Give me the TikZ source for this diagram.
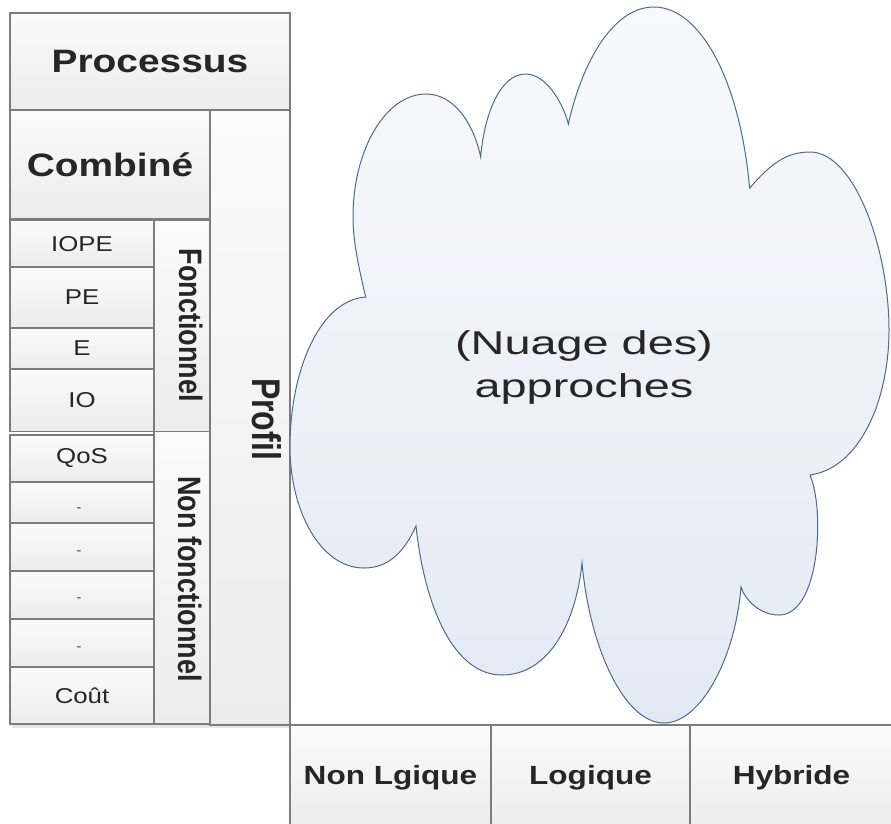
\documentclass[tikz,border=0pt]{standalone}
\usepackage{fontspec}
\setmainfont{Liberation Sans}
\newfontfamily\wideface[FakeStretch=1.2]{Liberation Sans}
\newfontfamily\cloudface[FakeStretch=1.42]{Liberation Sans}
\definecolor{boxline}{HTML}{7C7C7C}
\definecolor{boxtop}{HTML}{FBFBFB}
\definecolor{boxbot}{HTML}{ECECEC}
\definecolor{ink}{HTML}{262626}
\definecolor{cloudline}{HTML}{4E6B8E}
\definecolor{cloudtop}{HTML}{F8F9FC}
\definecolor{cloudbot}{HTML}{E3E9F3}
\begin{document}
\begin{tikzpicture}[x=1pt,y=-1pt,
  cell/.style={draw=boxline, line width=1.2pt, top color=boxtop, bottom color=boxbot,
    inner sep=0pt, text=ink, font=\wideface\fontsize{21.5}{26}\selectfont},
  head/.style={font=\wideface\bfseries\fontsize{32.4}{38}\selectfont},
  foot/.style={font=\wideface\bfseries\fontsize{26.3}{32}\selectfont},
  side/.style={rotate=-90, inner sep=0pt, text=ink},
  dashmark/.style={inner sep=0pt, text=ink, font=\wideface\fontsize{12}{14}\selectfont},
  cloudtext/.style={align=center, inner sep=0pt, text=ink,
    font=\cloudface\fontsize{33}{43.3}\selectfont}]
\clip (0,0) rectangle (891,823);
\fill[white] (0,0) rectangle (891,823);

% soft shadow under the left column
\fill[black!10] (12,724) rectangle (292,728);

% left column: profile, process, combined
\node[cell, minimum width=80pt, minimum height=615pt] (prof) at (250,417.5) {};
\node[cell, head, minimum width=280pt, minimum height=97pt] (proc) at (150,61.5) {Processus};
\node[cell, head, minimum width=200pt, minimum height=109pt] (comb) at (110,164.5) {Combiné};

% functional group
\node[cell, minimum width=56pt, minimum height=211pt] (fonc) at (182,326) {};
\node[cell, minimum width=144pt, minimum height=46.5pt] (iope) at (82,243.75) {IOPE};
\node[cell, minimum width=144pt, minimum height=61pt] (pe) at (82,297.5) {PE};
\node[cell, minimum width=144pt, minimum height=41pt] (e) at (82,348.5) {E};
\node[cell, minimum width=144pt, minimum height=62.5pt] (io) at (82,400.25) {IO};

% non-functional group
\node[cell, minimum width=56pt, minimum height=292.5pt] (nonf) at (182,577.75) {};
\node[cell, minimum width=144pt, minimum height=47pt] (qos) at (82,458.5) {QoS};
\node[cell, minimum width=144pt, minimum height=41pt] (d1) at (82,502.5) {};
\node[cell, minimum width=144pt, minimum height=48pt] (d2) at (82,547) {};
\node[cell, minimum width=144pt, minimum height=48pt] (d3) at (82,595) {};
\node[cell, minimum width=144pt, minimum height=48pt] (d4) at (82,643) {};
\node[cell, minimum width=144pt, minimum height=57pt] (cout) at (82,695.5) {Coût};
\node[dashmark] (m1) at (79,510) {-};
\node[dashmark] (m2) at (79,552.5) {-};
\node[dashmark] (m3) at (79,600) {-};
\node[dashmark] (m4) at (79,648.5) {-};

% vertical captions
\node[side, font=\bfseries\fontsize{32}{38}\selectfont] (profT) at (266.5,419) {\scalebox{1}[1.25]{Profil}};
\node[side, font=\bfseries\fontsize{27}{32}\selectfont] (foncT) at (191.5,325) {\scalebox{1}[1.2]{Fonctionnel}};
\node[side, font=\bfseries\fontsize{27}{32}\selectfont] (nonfT) at (190.5,579) {\scalebox{1}[1.2]{Non fonctionnel}};

% bottom row
\node[cell, foot, minimum width=201pt, minimum height=105pt] (nl) at (390.5,777.5) {Non Lgique};
\node[cell, foot, minimum width=199pt, minimum height=105pt] (lg) at (590.5,777.5) {Logique};
\node[cell, foot, minimum width=203pt, minimum height=105pt] (hy) at (791.5,777.5) {Hybride};

% cloud of approaches
\path[draw=cloudline, line width=1pt, top color=cloudtop, bottom color=cloudbot]
  (365.7,297)
  .. controls (358,265) and (353,240) .. (353,217)
  .. controls (353,149) and (386,94) .. (426,94)
  .. controls (455,94) and (474,125) .. (480.7,157)
  .. controls (484,115) and (500,74) .. (525.5,74)
  .. controls (545,74) and (562,100) .. (568.4,124)
  .. controls (580,70) and (610,7) .. (654,7)
  .. controls (700,7) and (740,80) .. (749.6,188)
  .. controls (770,165) and (785,152) .. (810,152)
  .. controls (855,152) and (889,250) .. (889,330)
  .. controls (889,400) and (860,468) .. (810,475)
  .. controls (825,510) and (820,615) .. (779,615)
  .. controls (760,615) and (745,600) .. (741,587)
  .. controls (735,660) and (700,723) .. (664,723)
  .. controls (625,723) and (590,650) .. (582,563)
  .. controls (575,630) and (545,675) .. (502,675)
  .. controls (455,675) and (425,610) .. (416,526)
  .. controls (405,550) and (390,568) .. (364,568)
  .. controls (320,568) and (290,510) .. (290,447)
  .. controls (290,370) and (320,300) .. (365.7,297) -- cycle;
\node[cloudtext] (nuage) at (584,367.5) {(Nuage des)\\approches};
\end{tikzpicture}
\end{document}
